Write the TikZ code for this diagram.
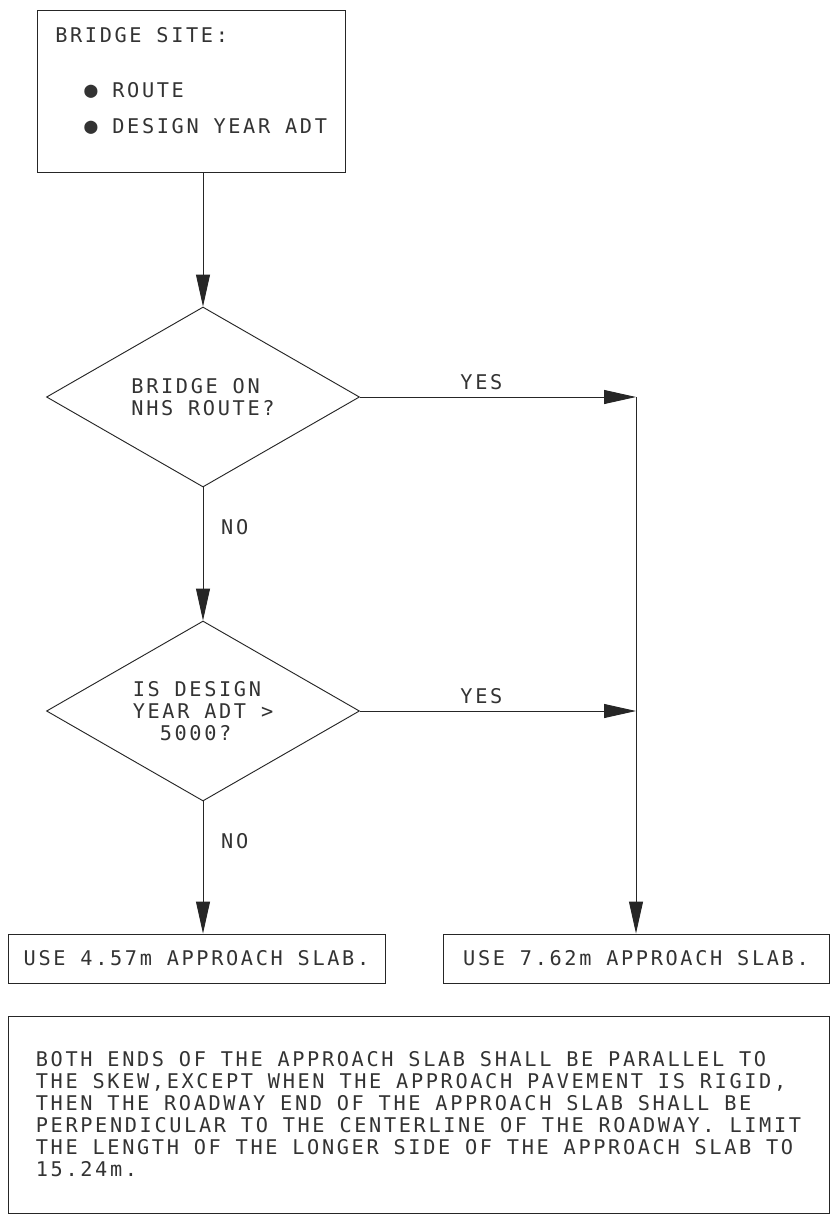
\documentclass[tikz,border=0pt]{standalone}
\usepackage{fontspec}
\newfontfamily\cadfont{DejaVu Sans Mono}[LetterSpace=13]
\newfontfamily\dotfont{DejaVu Sans Mono}
\usetikzlibrary{positioning, shapes.geometric, arrows.meta, calc}

\begin{document}
\begin{tikzpicture}[
        x=0.75pt, y=-0.75pt,
        every node/.style={font=\cadfont\fontsize{15.2pt}{16.5pt}\selectfont, text=black!80},
        box/.style={draw=black!85, line width=0.7pt, rectangle, inner sep=0pt, align=center},
        decision/.style={draw=black!85, line width=0.7pt, diamond, aspect=1.74, inner sep=0pt, minimum width=234.75pt, minimum height=135pt, align=left},
        flow/.style={draw=black!85, line width=0.7pt, -{Triangle[length=24pt, width=10.5pt]}},
        boxtext/.style={anchor=base west, inner sep=0pt}
    ]

    % page
    \path[use as bounding box, fill=white] (0,0) rectangle (833,1222);

    % start box
    \node[box, minimum width=231pt, minimum height=121.5pt] (site) at (191,91) {};
    \node[boxtext] (sitehead) at (55,42) {BRIDGE SITE:};
    \node[boxtext] (route) at (84,97) {{\dotfont\fontsize{16.5pt}{16.5pt}\selectfont ●} ROUTE};
    \node[boxtext] (year) at (84,133) {{\dotfont\fontsize{16.5pt}{16.5pt}\selectfont ●} DESIGN YEAR ADT};

    % decisions
    \node[decision] (nhs) at (203,397) {BRIDGE ON\\NHS ROUTE?};
    \node[decision] (adt) at (203,711) {IS DESIGN\\YEAR ADT >\\\hphantom{XX}5000?};

    % results
    \node[box, minimum width=282.75pt, minimum height=36.75pt] (short) at (196.5,958.5) {USE 4.57m APPROACH SLAB.};
    \node[box, minimum width=289.5pt, minimum height=36.75pt] (long) at (636,958.5) {USE 7.62m APPROACH SLAB.};

    % note
    \node[box, align=left, minimum width=615.75pt, minimum height=147.75pt] (note) at (418.5,1114.5) {BOTH ENDS OF THE APPROACH SLAB SHALL BE PARALLEL TO\\THE SKEW,EXCEPT WHEN THE APPROACH PAVEMENT IS RIGID,\\THEN THE ROADWAY END OF THE APPROACH SLAB SHALL BE\\PERPENDICULAR TO THE CENTERLINE OF THE ROADWAY. LIMIT\\THE LENGTH OF THE LONGER SIDE OF THE APPROACH SLAB TO\\15.24m.};

    % connectors
    \coordinate (join) at (nhs.east -| long.north);
    \draw[flow] (site.south -| nhs.north) -- (nhs.north);
    \draw[flow] (nhs.east) -- (join) node[pos=0.44, above=2pt] (yesnhs) {YES};
    \draw[flow] (nhs.south) -- (adt.north) node[pos=0.3, right=10pt] (nonhs) {NO};
    \draw[flow] (adt.east) -- (adt.east -| long.north) node[pos=0.44, above=2pt] (yesadt) {YES};
    \draw[flow] (adt.south) -- (adt.south |- short.north) node[pos=0.3, right=10pt] (noadt) {NO};
    \draw[flow] (join) -- (long.north);

\end{tikzpicture}
\end{document}
